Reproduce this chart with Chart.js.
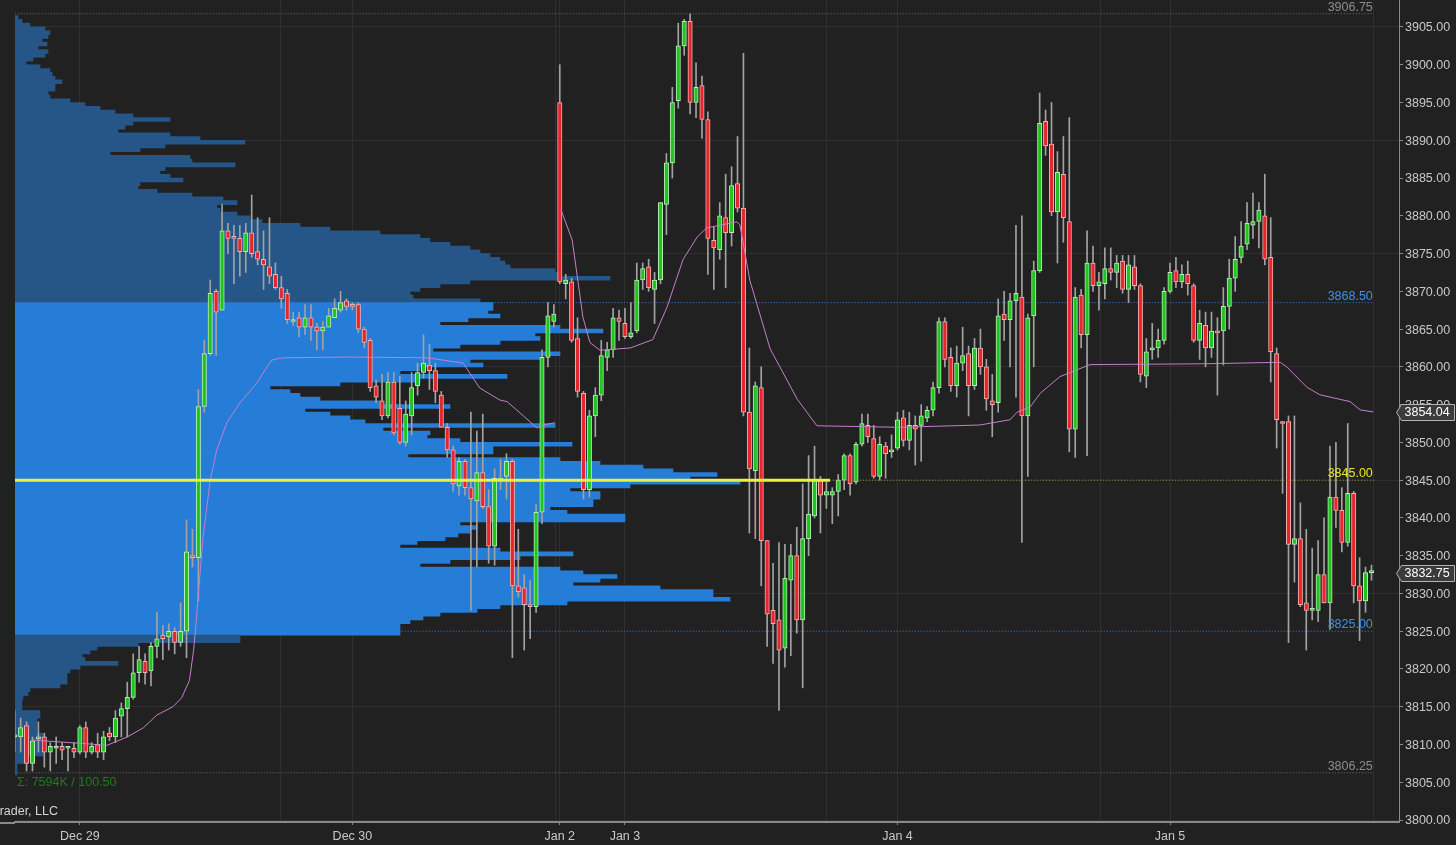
<!DOCTYPE html>
<html lang="en">
<head>
<meta charset="utf-8">
<title>ES 30 min - volume profile</title>
<script src="https://cdn.jsdelivr.net/npm/chart.js@4.4.1/dist/chart.umd.min.js"></script>
<style>
  html, body { margin: 0; padding: 0; background: #212121; overflow: hidden; }
  #box { width: 1456px; height: 845px; }
  canvas { background: #212121; }
</style>
</head>
<body>
<div id="box"><canvas id="mainChart" width="1456" height="845"></canvas></div>
<script>
// 30 min bars, Dec 28 evening -> Jan 5 afternoon
const opens = [
  3811.0, 3811.0, 3812.5, 3807.5, 3810.75, 3811.0, 3809.0, 3809.5, 3809.75, 3809.5,
  3809.5, 3809.0, 3812.25, 3809.0, 3810.0, 3809.0, 3811.5, 3811.0, 3813.75, 3814.75,
  3816.25, 3819.5, 3821.0, 3819.75, 3823.0, 3824.5, 3824.25, 3825.0, 3823.5, 3825.0,
  3835.0, 3834.75, 3854.75, 3861.75, 3870.0, 3867.5, 3878.0, 3877.25, 3877.0, 3875.25,
  3877.75, 3875.25, 3874.25, 3873.25, 3872.25, 3870.5, 3869.75, 3866.0, 3866.5, 3865.25,
  3866.5, 3865.25, 3864.75, 3865.25, 3866.5, 3867.5, 3868.75, 3868.25, 3868.25, 3865.0,
  3863.5, 3857.5, 3855.5, 3853.5, 3858.0, 3854.5, 3850.0, 3853.5, 3857.5, 3859.25,
  3860.25, 3859.5, 3856.25, 3852.0, 3849.0, 3844.25, 3847.5, 3844.0, 3842.25, 3846.0,
  3841.5, 3836.25, 3845.0, 3845.5, 3847.5, 3831.0, 3830.75, 3828.5, 3828.25, 3840.75,
  3861.25, 3866.0, 3895.0, 3871.0, 3871.25, 3863.75, 3856.5, 3843.75, 3853.5, 3856.25,
  3861.25, 3862.25, 3866.5, 3865.75, 3864.0, 3864.75, 3871.5, 3873.25, 3870.25, 3871.5,
  3881.5, 3887.0, 3895.25, 3902.5, 3905.75, 3895.0, 3897.25, 3892.75, 3876.75, 3875.5,
  3879.75, 3877.75, 3884.25, 3881.0, 3854.0, 3846.25, 3857.25, 3837.0, 3827.75, 3826.5,
  3822.75, 3831.75, 3835.0, 3826.5, 3837.25, 3840.25, 3845.0, 3843.0, 3843.0, 3843.5,
  3845.0, 3848.25, 3844.75, 3849.75, 3852.25, 3850.5, 3845.5, 3849.5, 3848.75, 3849.25,
  3853.25, 3850.25, 3852.25, 3852.25, 3853.25, 3854.25, 3857.25, 3866.0, 3861.25, 3857.5,
  3860.5, 3861.75, 3857.5, 3862.5, 3860.0, 3855.5, 3855.25, 3867.0, 3866.25, 3868.75,
  3869.25, 3853.5, 3866.75, 3872.75, 3892.5, 3889.5, 3880.5, 3885.5, 3879.25, 3851.75,
  3869.5, 3864.25, 3873.75, 3870.75, 3871.0, 3873.0, 3872.5, 3874.0, 3870.25, 3873.25,
  3870.75, 3858.75, 3862.25, 3862.5, 3863.5, 3870.0, 3872.75, 3871.25, 3872.25, 3870.75,
  3863.5, 3865.5, 3862.5, 3864.75, 3864.75, 3868.0, 3871.75, 3874.5, 3876.25, 3878.75,
  3879.25, 3880.0, 3874.5, 3861.75, 3852.75, 3852.75, 3836.5, 3837.25, 3828.75, 3827.75,
  3827.75, 3832.5, 3828.75, 3842.75, 3841.0, 3836.75, 3843.25, 3831.0, 3829.0, 3832.75
];
const highs = [
  3814.5, 3813.5, 3813.0, 3811.0, 3813.0, 3811.5, 3810.25, 3811.0, 3810.25, 3809.75,
  3810.25, 3812.5, 3813.0, 3810.25, 3811.5, 3811.75, 3812.25, 3814.5, 3815.5, 3818.25,
  3822.0, 3823.0, 3822.0, 3823.5, 3827.5, 3825.75, 3826.0, 3825.5, 3828.75, 3839.75,
  3838.5, 3857.0, 3863.5, 3871.5, 3870.25, 3881.5, 3879.0, 3878.75, 3878.75, 3879.0,
  3882.75, 3879.75, 3878.0, 3879.75, 3873.75, 3872.0, 3870.25, 3867.25, 3867.25, 3868.25,
  3868.25, 3865.75, 3866.0, 3867.75, 3869.0, 3870.0, 3869.0, 3868.5, 3868.5, 3865.25,
  3863.75, 3858.25, 3859.0, 3859.25, 3859.25, 3858.75, 3855.5, 3859.25, 3860.5, 3864.25,
  3863.0, 3860.5, 3856.75, 3852.5, 3849.5, 3848.0, 3847.75, 3854.0, 3851.5, 3853.75,
  3843.75, 3846.5, 3847.75, 3848.5, 3847.75, 3838.5, 3832.5, 3831.75, 3841.75, 3862.25,
  3868.5, 3868.25, 3900.0, 3872.25, 3871.75, 3866.5, 3856.75, 3854.25, 3857.25, 3863.5,
  3863.25, 3867.75, 3867.5, 3867.75, 3868.5, 3873.75, 3873.75, 3874.25, 3872.5, 3881.75,
  3888.25, 3897.0, 3905.5, 3906.0, 3906.75, 3900.25, 3898.5, 3893.75, 3878.5, 3881.75,
  3885.5, 3886.5, 3890.5, 3901.5, 3862.5, 3858.0, 3860.0, 3837.0, 3834.0, 3836.75,
  3836.5, 3836.5, 3838.75, 3844.5, 3848.25, 3849.5, 3845.5, 3844.75, 3844.0, 3845.75,
  3848.5, 3848.5, 3850.0, 3853.75, 3853.75, 3852.25, 3850.75, 3850.0, 3851.0, 3854.0,
  3854.25, 3854.0, 3853.5, 3855.0, 3854.75, 3858.0, 3866.5, 3866.5, 3862.5, 3862.75,
  3865.25, 3862.75, 3863.75, 3865.0, 3861.0, 3859.0, 3869.0, 3870.0, 3869.75, 3878.75,
  3880.0, 3867.0, 3874.0, 3896.25, 3894.0, 3895.0, 3888.5, 3890.5, 3893.0, 3870.5,
  3870.25, 3878.0, 3876.0, 3872.5, 3875.75, 3875.75, 3874.75, 3874.75, 3874.75, 3874.75,
  3871.0, 3863.75, 3865.75, 3865.0, 3870.5, 3873.75, 3874.5, 3873.5, 3874.0, 3871.0,
  3867.5, 3867.25, 3867.25, 3866.5, 3870.5, 3874.25, 3877.25, 3879.25, 3881.75, 3883.0,
  3881.75, 3885.5, 3879.75, 3862.5, 3852.75, 3853.5, 3853.5, 3842.0, 3838.5, 3836.0,
  3837.0, 3840.0, 3849.5, 3850.0, 3844.0, 3852.5, 3843.5, 3834.75, 3833.5, 3833.75
];
const lows = [
  3809.0, 3809.0, 3806.5, 3806.5, 3809.0, 3807.0, 3806.5, 3807.5, 3808.0, 3806.5,
  3808.25, 3808.75, 3808.25, 3808.75, 3808.25, 3808.0, 3810.5, 3810.25, 3811.0, 3811.0,
  3816.0, 3818.25, 3818.0, 3817.75, 3821.5, 3821.25, 3822.5, 3822.0, 3823.0, 3821.5,
  3833.5, 3829.0, 3854.0, 3861.5, 3861.5, 3867.5, 3875.0, 3871.0, 3872.0, 3872.5,
  3874.5, 3873.5, 3870.25, 3871.0, 3870.25, 3867.75, 3865.75, 3865.5, 3864.0, 3864.25,
  3863.5, 3862.25, 3862.25, 3865.25, 3866.5, 3867.25, 3867.5, 3867.5, 3864.5, 3862.5,
  3856.75, 3855.25, 3853.0, 3853.25, 3851.0, 3849.75, 3849.5, 3851.0, 3856.25, 3858.5,
  3857.0, 3855.25, 3852.0, 3848.0, 3843.5, 3843.0, 3843.0, 3827.75, 3833.5, 3841.25,
  3834.0, 3833.75, 3843.75, 3842.5, 3821.5, 3829.5, 3822.5, 3824.0, 3827.5, 3839.25,
  3860.0, 3865.25, 3871.0, 3869.0, 3863.25, 3856.0, 3842.5, 3842.75, 3850.75, 3855.5,
  3859.5, 3861.25, 3863.5, 3863.75, 3863.75, 3864.5, 3870.25, 3870.0, 3865.75, 3871.0,
  3877.5, 3885.0, 3894.25, 3901.25, 3893.5, 3893.0, 3890.25, 3872.25, 3870.25, 3874.25,
  3870.5, 3876.0, 3880.5, 3853.5, 3838.0, 3837.25, 3831.0, 3823.0, 3820.75, 3814.5,
  3820.25, 3821.75, 3824.75, 3817.5, 3835.0, 3840.0, 3838.0, 3841.25, 3839.25, 3840.25,
  3843.75, 3843.0, 3844.5, 3849.5, 3850.0, 3845.25, 3845.0, 3845.25, 3848.0, 3849.0,
  3849.5, 3849.0, 3847.0, 3847.5, 3852.75, 3853.5, 3856.5, 3860.0, 3856.75, 3856.0,
  3859.5, 3853.5, 3857.0, 3859.0, 3854.25, 3850.75, 3854.0, 3863.5, 3860.0, 3856.0,
  3836.75, 3845.5, 3860.0, 3872.5, 3888.0, 3880.0, 3873.75, 3876.5, 3848.75, 3848.0,
  3862.5, 3848.25, 3870.0, 3867.5, 3869.0, 3871.5, 3870.5, 3869.75, 3868.5, 3870.25,
  3858.0, 3857.25, 3861.0, 3861.25, 3863.0, 3869.75, 3870.5, 3870.5, 3869.5, 3863.25,
  3861.0, 3860.0, 3861.25, 3856.25, 3860.25, 3865.0, 3870.0, 3873.75, 3875.5, 3877.0,
  3875.75, 3873.5, 3858.0, 3849.25, 3843.25, 3823.5, 3831.5, 3828.25, 3822.5, 3826.5,
  3826.25, 3828.75, 3825.25, 3838.75, 3835.5, 3836.25, 3828.75, 3823.75, 3827.5, 3831.75
];
const closes = [
  3811.25, 3812.25, 3807.5, 3810.5, 3811.0, 3809.0, 3809.75, 3809.75, 3809.25, 3809.5,
  3809.0, 3812.25, 3809.0, 3809.75, 3809.0, 3811.0, 3811.0, 3813.5, 3814.75, 3816.25,
  3819.5, 3821.25, 3819.5, 3823.0, 3824.0, 3824.0, 3825.0, 3823.5, 3825.0, 3835.5,
  3834.75, 3854.75, 3861.75, 3869.75, 3867.25, 3878.0, 3877.0, 3877.0, 3875.25, 3877.75,
  3875.0, 3874.25, 3873.5, 3872.0, 3870.5, 3869.0, 3866.25, 3866.0, 3865.25, 3866.5,
  3865.25, 3864.75, 3865.25, 3866.75, 3867.75, 3868.5, 3868.0, 3868.0, 3865.0, 3863.25,
  3857.25, 3856.0, 3853.5, 3858.0, 3851.25, 3850.0, 3853.75, 3857.25, 3859.25, 3860.5,
  3859.5, 3856.75, 3852.0, 3849.0, 3844.5, 3847.5, 3844.0, 3842.5, 3846.0, 3841.5,
  3836.25, 3845.25, 3845.25, 3847.5, 3831.0, 3830.25, 3828.5, 3828.25, 3840.75, 3861.25,
  3866.75, 3867.0, 3871.25, 3871.5, 3863.5, 3856.75, 3843.75, 3853.5, 3856.25, 3861.5,
  3862.25, 3866.5, 3866.0, 3864.0, 3864.5, 3871.5, 3873.0, 3870.5, 3871.5, 3881.75,
  3887.0, 3895.0, 3902.5, 3905.75, 3895.0, 3897.0, 3892.75, 3877.0, 3875.75, 3880.0,
  3877.75, 3884.0, 3881.0, 3854.0, 3846.5, 3857.5, 3837.0, 3827.25, 3826.0, 3822.5,
  3832.0, 3835.0, 3826.5, 3837.25, 3840.5, 3845.0, 3843.0, 3843.5, 3843.5, 3845.0,
  3848.25, 3844.5, 3849.75, 3852.5, 3850.75, 3845.5, 3849.75, 3848.5, 3849.0, 3853.0,
  3850.25, 3852.25, 3851.75, 3853.5, 3854.25, 3857.25, 3866.0, 3861.0, 3857.5, 3860.5,
  3861.5, 3857.5, 3862.5, 3860.0, 3855.75, 3855.0, 3866.75, 3866.25, 3868.75, 3869.75,
  3853.5, 3866.5, 3872.75, 3892.25, 3889.25, 3880.5, 3885.75, 3879.75, 3851.75, 3869.25,
  3864.25, 3873.75, 3870.75, 3871.25, 3873.0, 3872.5, 3873.75, 3870.25, 3873.5, 3870.75,
  3859.0, 3862.0, 3862.5, 3863.5, 3870.0, 3872.5, 3871.25, 3872.25, 3871.0, 3863.5,
  3865.75, 3862.5, 3864.75, 3864.5, 3868.0, 3871.75, 3874.25, 3876.0, 3879.0, 3879.25,
  3880.75, 3874.25, 3862.0, 3853.0, 3852.5, 3836.5, 3837.25, 3828.5, 3827.75, 3828.0,
  3832.5, 3828.75, 3842.75, 3841.0, 3836.75, 3843.25, 3831.0, 3829.0, 3832.75, 3832.75
];

// date labels sit on the bar that opens at midnight
const dateTickIdx = [11, 57, 92, 103, 149, 195];
const dateTickLabels = ['Dec 29', 'Dec 30', 'Jan 2', 'Jan 3', 'Jan 4', 'Jan 5'];
const sessionGridIdx = [44.9, 91.2, 137.1, 183.2, 229.3];

// volume profile (K contracts per half point)
const profileLevels = [
  3906.5, 3906.0, 3905.5, 3905.0, 3904.5, 3904.0, 3903.5, 3903.0, 3902.5, 3902.0,
  3901.5, 3901.0, 3900.5, 3900.0, 3899.5, 3899.0, 3898.5, 3898.0, 3897.5, 3897.0,
  3896.5, 3896.0, 3895.5, 3895.0, 3894.5, 3894.0, 3893.5, 3893.0, 3892.5, 3892.0,
  3891.5, 3891.0, 3890.5, 3890.0, 3889.5, 3889.0, 3888.5, 3888.0, 3887.5, 3887.0,
  3886.5, 3886.0, 3885.5, 3885.0, 3884.5, 3884.0, 3883.5, 3883.0, 3882.5, 3882.0,
  3881.5, 3881.0, 3880.5, 3880.0, 3879.5, 3879.0, 3878.5, 3878.0, 3877.5, 3877.0,
  3876.5, 3876.0, 3875.5, 3875.0, 3874.5, 3874.0, 3873.5, 3873.0, 3872.5, 3872.0,
  3871.5, 3871.0, 3870.5, 3870.0, 3869.5, 3869.0, 3868.5, 3868.0, 3867.5, 3867.0,
  3866.5, 3866.0, 3865.5, 3865.0, 3864.5, 3864.0, 3863.5, 3863.0, 3862.5, 3862.0,
  3861.5, 3861.0, 3860.5, 3860.0, 3859.5, 3859.0, 3858.5, 3858.0, 3857.5, 3857.0,
  3856.5, 3856.0, 3855.5, 3855.0, 3854.5, 3854.0, 3853.5, 3853.0, 3852.5, 3852.0,
  3851.5, 3851.0, 3850.5, 3850.0, 3849.5, 3849.0, 3848.5, 3848.0, 3847.5, 3847.0,
  3846.5, 3846.0, 3845.5, 3845.0, 3844.5, 3844.0, 3843.5, 3843.0, 3842.5, 3842.0,
  3841.5, 3841.0, 3840.5, 3840.0, 3839.5, 3839.0, 3838.5, 3838.0, 3837.5, 3837.0,
  3836.5, 3836.0, 3835.5, 3835.0, 3834.5, 3834.0, 3833.5, 3833.0, 3832.5, 3832.0,
  3831.5, 3831.0, 3830.5, 3830.0, 3829.5, 3829.0, 3828.5, 3828.0, 3827.5, 3827.0,
  3826.5, 3826.0, 3825.5, 3825.0, 3824.5, 3824.0, 3823.5, 3823.0, 3822.5, 3822.0,
  3821.5, 3821.0, 3820.5, 3820.0, 3819.5, 3819.0, 3818.5, 3818.0, 3817.5, 3817.0,
  3816.5, 3816.0, 3815.5, 3815.0, 3814.5, 3814.0, 3813.5, 3813.0, 3812.5, 3812.0,
  3811.5, 3811.0, 3810.5, 3810.0, 3809.5, 3809.0, 3808.5, 3808.0, 3807.5, 3807.0,
  3806.5
];
const profileVol = [
  0.3, 0.7, 1.5, 3.0, 3.5, 3.3, 2.7, 3.2, 2.3, 3.3,
  3.0, 1.8, 1.1, 2.5, 3.5, 3.7, 4.0, 4.7, 4.0, 4.0,
  3.3, 3.5, 5.5, 7.0, 8.5, 10.0, 11.8, 15.5, 11.8, 11.0,
  10.3, 15.5, 18.5, 23.0, 15.0, 12.5, 9.5, 17.5, 17.7, 22.0,
  15.0, 14.5, 15.5, 16.8, 12.5, 12.3, 14.2, 17.7, 20.8, 22.2,
  20.2, 20.5, 22.2, 23.5, 24.7, 28.5, 31.5, 36.5, 40.5, 41.5,
  43.5, 45.5, 46.5, 47.5, 48.5, 49.0, 49.5, 54.0, 54.5, 59.5,
  45.5, 42.5, 40.5, 39.5, 39.8, 46.5, 47.8, 47.8, 47.3, 48.5,
  45.3, 42.5, 54.5, 58.8, 52.0, 52.5, 48.5, 44.5, 41.8, 54.5,
  52.5, 45.5, 46.8, 40.5, 38.5, 49.2, 40.5, 32.5, 25.5, 27.5,
  28.5, 30.5, 36.5, 43.5, 29.0, 31.5, 33.5, 35.0, 54.0, 36.8,
  41.5, 41.2, 44.5, 55.7, 47.8, 47.8, 39.3, 54.5, 58.5, 62.8,
  65.8, 70.2, 67.5, 72.5, 61.5, 55.5, 58.5, 58.5, 57.8, 57.8,
  53.5, 55.2, 61.0, 61.0, 44.5, 46.2, 45.5, 44.3, 43.0, 40.2,
  38.5, 48.5, 55.8, 50.5, 43.5, 40.5, 54.5, 56.8, 60.2, 58.5,
  55.8, 64.5, 69.8, 69.8, 71.5, 55.2, 48.5, 46.2, 42.5, 40.8,
  39.5, 38.5, 38.5, 38.5, 22.5, 22.5, 12.3, 8.2, 7.5, 6.7,
  7.0, 10.3, 6.5, 5.5, 5.2, 5.2, 5.2, 4.5, 1.5, 1.3,
  0.8, 0.7, 0.7, 0.7, 2.5, 2.5, 2.2, 2.2, 2.2, 2.2,
  2.8, 2.8, 2.8, 2.8, 2.8, 2.8, 1.0, 1.0, 0.2, 0.2,
  0.2
];
const valueAreaHigh = 3868.50;
const valueAreaLow = 3825.00;
const pocLevel = 3845.00;
const rangeHigh = 3906.75;
const rangeLow = 3806.25;

// VWAP, two sessions
const vwapIdxA = [2.9, 15.6, 19.0, 21.7, 24.0, 26.7, 28.2, 29.5, 30.2, 30.6, 31.0, 31.8, 33.0, 34.1, 35.8,
  38.0, 40.9, 42.6, 43.4, 45.3, 56.6, 69.6, 75.7, 77.2, 78.5, 81.9, 83.1, 88.2, 89.2, 91.2];
const vwapA = [3810.6, 3809.9, 3811.0, 3812.2, 3813.9, 3815.0, 3816.2, 3818.5, 3822.5, 3826.0, 3830.0, 3837.5, 3845.0, 3849.0, 3852.6,
  3855.2, 3857.9, 3860.0, 3860.9, 3861.2, 3861.3, 3861.2, 3860.5, 3858.7, 3857.2, 3855.6, 3855.4, 3851.9, 3852.3, 3852.6];
const vwapIdxB = [92.2, 94.1, 95.9, 97.1, 98.8, 103.9, 107.7, 110.1, 112.8, 115.2, 116.8, 121.9, 122.4, 124.1, 127.5, 132.1, 135.4,
  149.4, 162.9, 168.0, 169.2, 171.4, 173.1, 176.4, 179.3, 181.5, 200.1, 213.6, 214.7, 218.1, 220.3, 225.4, 227.1, 229.3];
const vwapB = [3880.8, 3876.8, 3866.6, 3863.2, 3862.2, 3862.5, 3863.6, 3867.9, 3874.2, 3877.2, 3878.4, 3879.2, 3878.8, 3871.4, 3862.4, 3855.7, 3852.2,
  3852.0, 3852.3, 3853.0, 3854.0, 3854.7, 3856.5, 3858.7, 3859.6, 3860.3, 3860.4, 3860.6, 3860.0, 3857.3, 3856.3, 3855.4, 3854.3, 3854.04];

const lastVwap = 3854.04;
const lastPrice = 3832.75;

// ---- layout of the panel ----
const X_MIN = 0.05, X_MAX = 233.65;      // bar index range shown
const Y_MIN = 3799.74, Y_MAX = 3908.57;  // price range shown
const LEVEL_END = 229.4;                 // level lines stop at the last bar
const POC_SOLID_END = 137.6;

const GRID = '#2f2f2f';
const AXIS = '#8a8a8a';
const UP = '#1fc41f', DOWN = '#e5262b';
const VA_BLUE = '#267dd7', OUT_BLUE = '#255687';
const LEVEL_BLUE = '#2f80da';

Chart.defaults.font.family = '"Liberation Sans", Arial, sans-serif';
Chart.defaults.color = '#c8c8c8';

const isUp = i => closes[i] >= opens[i];
const bodyData = opens.map((o, i) => ({ x: i, y: [o, closes[i]] }));
const wickData = opens.map((o, i) => ({ x: i, y: [lows[i], highs[i]] }));
const profileData = profileLevels.map((p, k) => ({ x: profileVol[k], y: p }));
const vwapData = [
  ...vwapIdxA.map((x, k) => ({ x, y: vwapA[k] })),
  { x: vwapIdxA[vwapIdxA.length - 1], y: null },
  ...vwapIdxB.map((x, k) => ({ x, y: vwapB[k] }))
];

function levelLine(price, x0, x1, color, width, dash, order) {
    return {
        type: 'line', xAxisID: 'x', yAxisID: 'y',
        data: [{ x: x0, y: price }, { x: x1, y: price }],
        borderColor: color, borderWidth: width, borderDash: dash,
        pointRadius: 0, fill: false, order
    };
}

const levelTags = [
    { price: rangeHigh, color: '#8c8c8c' },
    { price: valueAreaHigh, color: '#3c90ea' },
    { price: pocLevel, color: '#e6e632' },
    { price: valueAreaLow, color: '#3c90ea' },
    { price: rangeLow, color: '#8c8c8c' }
];

// texts on top of the panel: level tags, footer, axis value boxes
const annotations = {
    id: 'annotations',
    afterDraw(chart) {
        const { ctx, chartArea, scales: { x, y } } = chart;
        const right = x.getPixelForValue(LEVEL_END) - 1;
        ctx.save();

        // bottom axis rule runs to the left edge of the window
        ctx.strokeStyle = AXIS;
        ctx.lineWidth = 2;
        ctx.beginPath();
        ctx.moveTo(0, chartArea.bottom + 1);
        ctx.lineTo(chartArea.left, chartArea.bottom + 1);
        ctx.stroke();

        ctx.font = '12.5px "Liberation Sans", Arial, sans-serif';
        ctx.textAlign = 'right';
        ctx.textBaseline = 'alphabetic';
        levelTags.forEach(t => {
            ctx.fillStyle = t.color;
            ctx.fillText(t.price.toFixed(2), right, y.getPixelForValue(t.price) - 3);
        });

        ctx.textAlign = 'left';
        ctx.fillStyle = '#1f7a1f';
        ctx.fillText('\u03A3: 7594K / 100.50', chartArea.left + 2, 786);
        ctx.textAlign = 'right';
        ctx.fillStyle = '#d4d4d4';
        ctx.fillText('NinjaTrader, LLC', 58, 815);

        [lastVwap, lastPrice].forEach(v => {
            const py = Math.round(y.getPixelForValue(v)) + 0.5;
            const x0 = y.left + 2.5, x1 = chart.width - 1.5;
            ctx.beginPath();
            ctx.moveTo(x0 - 5, py);
            ctx.lineTo(x0, py - 8);
            ctx.lineTo(x1, py - 8);
            ctx.lineTo(x1, py + 8);
            ctx.lineTo(x0, py + 8);
            ctx.closePath();
            ctx.fillStyle = '#3b3b3b';
            ctx.fill();
            ctx.strokeStyle = '#b4b4b4';
            ctx.lineWidth = 1;
            ctx.stroke();
            ctx.fillStyle = '#ffffff';
            ctx.textAlign = 'left';
            ctx.textBaseline = 'middle';
            ctx.fillText(v.toFixed(2), x0 + 3, py + 0.5);
        });
        ctx.restore();
    }
};

new Chart(document.getElementById('mainChart'), {
    type: 'bar',
    data: {
        datasets: [
            // candles
            {
                type: 'bar', xAxisID: 'x', yAxisID: 'y',
                data: bodyData, grouped: false,
                barThickness: 4.4, minBarLength: 2,
                backgroundColor: c => isUp(c.dataIndex) ? UP : DOWN,
                borderColor: c => isUp(c.dataIndex) ? '#b8eeb8' : '#f2b0b0',
                borderWidth: 1, borderSkipped: false,
                order: 20
            },
            {
                type: 'bar', xAxisID: 'x', yAxisID: 'y',
                data: wickData, grouped: false,
                barThickness: 1, backgroundColor: '#a2a2a2', borderWidth: 0,
                order: 21
            },
            // volume profile
            {
                type: 'bar', indexAxis: 'y', xAxisID: 'vol', yAxisID: 'y',
                data: profileData,
                barThickness: 3.9,
                backgroundColor: c => {
                    const p = profileLevels[c.dataIndex];
                    return (p >= valueAreaLow && p <= valueAreaHigh) ? VA_BLUE : OUT_BLUE;
                },
                borderWidth: 0,
                order: 40
            },
            // VWAP
            {
                type: 'line', xAxisID: 'x', yAxisID: 'y',
                data: vwapData, borderColor: '#c47fca', borderWidth: 1,
                pointRadius: 0, tension: 0, spanGaps: false, fill: false,
                order: 6
            },
            // level lines
            levelLine(rangeHigh, 0, LEVEL_END, '#707070', 1, [1, 2], 50),
            levelLine(valueAreaHigh, 0, LEVEL_END, LEVEL_BLUE, 1, [1, 2], 50),
            levelLine(valueAreaLow, 0, LEVEL_END, LEVEL_BLUE, 1, [1, 2], 50),
            levelLine(rangeLow, 0, LEVEL_END, '#707070', 1, [1, 2], 50),
            levelLine(pocLevel, POC_SOLID_END, LEVEL_END, '#9a9a34', 1, [1, 2], 5),
            levelLine(pocLevel, 0, POC_SOLID_END, '#e9f23e', 3, [], 5)
        ]
    },
    options: {
        responsive: false,
        animation: false,
        devicePixelRatio: 1,
        events: [],
        layout: { padding: { left: 15, right: 0, top: 0, bottom: 0 } },
        plugins: { legend: { display: false }, tooltip: { enabled: false } },
        scales: {
            x: {
                type: 'linear', position: 'bottom', min: X_MIN, max: X_MAX,
                offset: false,
                grid: {
                    offset: false, color: GRID, tickLength: 3,
                    tickColor: c => (c.tick && dateTickIdx.includes(c.tick.value)) ? AXIS : 'transparent'
                },
                border: { color: AXIS, width: 2 },
                ticks: {
                    autoSkip: false, maxRotation: 0, padding: 4,
                    color: '#c8c8c8', font: { size: 12.5 },
                    callback: v => {
                        const k = dateTickIdx.indexOf(v);
                        return k >= 0 ? dateTickLabels[k] : '';
                    }
                },
                afterBuildTicks: s => {
                    s.ticks = [...dateTickIdx, ...sessionGridIdx].sort((a, b) => a - b).map(v => ({ value: v }));
                },
                afterFit: s => { s.height = 23; s.paddingLeft = 0; s.paddingRight = 0; }
            },
            vol: {
                type: 'linear', axis: 'x', position: 'bottom', display: false,
                min: 0, max: 138.4, offset: false, beginAtZero: true
            },
            y: {
                type: 'linear', position: 'right', min: Y_MIN, max: Y_MAX,
                offset: false, beginAtZero: false,
                grid: {
                    offset: false,
                    color: c => (c.tick && Math.round(c.tick.value - 3800) % 15 === 0) ? GRID : 'transparent',
                    tickColor: AXIS, tickLength: 4
                },
                border: { color: AXIS, width: 1 },
                ticks: {
                    stepSize: 5, includeBounds: false, padding: 2, labelOffset: 1,
                    color: '#c8c8c8', font: { size: 12.5 },
                    callback: v => v.toFixed(2)
                },
                afterFit: s => { s.width = 57; s.paddingTop = 0; s.paddingBottom = 0; }
            }
        }
    },
    plugins: [annotations]
});
</script>
</body>
</html>
